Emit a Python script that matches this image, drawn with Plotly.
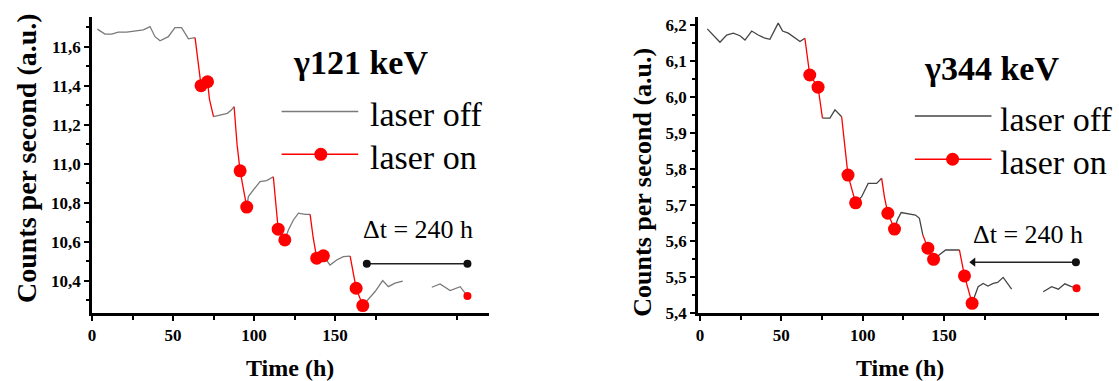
import plotly.graph_objects as go

# ---------------- data: left panel (gamma 121 keV) ----------------
L_off_x = [3.3, 8, 12.2, 16.2, 21.4, 26.5, 31.7, 35.8, 38.9, 42, 47.1, 51.2, 55.3, 59.5, 63.6, None,
           75.0, 77.5, 80.5, 83.5, 86.0, 87.7, None,
           95.5, 96.5, 99.6, 103.7, 107.8, 111.9, None,
           119.0, 121.2, 124.3, 127.4, 131.5, 134.6, None,
           142.8, 146.9, 151.0, 155.1, 159.3, None,
           167.1, 171.6, 174.7, 179.4, 182.9, 187.0, 191.8, None,
           209.7, 214.8, 221.0, 227.2, 231.7]
L_off_y = [11.690, 11.664, 11.664, 11.674, 11.674, 11.680, 11.686, 11.703, 11.651, 11.630, 11.651, 11.697, 11.697, 11.640, 11.646, None,
           11.241, 11.245, 11.250, 11.258, 11.275, 11.292, None,
           10.777, 10.831, 10.865, 10.908, 10.913, 10.933, None,
           10.609, 10.660, 10.711, 10.746, 10.740, 10.740, None,
           10.527, 10.480, 10.506, 10.523, 10.526, None,
           10.272, 10.318, 10.344, 10.400, 10.369, 10.387, 10.398, None,
           10.366, 10.383, 10.349, 10.369, 10.321]
L_on_x = [63.6, 65.0, 67.3, 71.3, 72.5, 75.0, None,
          87.7, 89.5, 91.4, 95.5, None,
          111.9, 113.4, 114.9, 119.0, None,
          134.6, 136.5, 138.7, 142.8, None,
          159.3, 161.0, 163.0, 167.1]
L_on_y = [11.646, 11.55, 11.40, 11.42, 11.33, 11.241, None,
          11.292, 11.10, 10.963, 10.777, None,
          10.933, 10.80, 10.664, 10.609, None,
          10.740, 10.62, 10.515, 10.527, None,
          10.526, 10.44, 10.361, 10.272]
L_dot_x = [67.3, 71.3, 91.4, 95.5, 114.9, 119.0, 138.7, 142.8, 163.0, 167.1]
L_dot_y = [11.40, 11.42, 10.963, 10.777, 10.664, 10.609, 10.515, 10.527, 10.361, 10.272]
L_last_x = [231.7]
L_last_y = [10.321]
L_dt_x = [169.6, 231.7]
L_dt_y = [10.486, 10.486]

# ---------------- data: right panel (gamma 344 keV) ----------------
R_off_x = [4.5, 8.2, 12.3, 16.4, 20.5, 24.6, 27.7, 31.8, 35.8, 40.0, 43.0, 48.1, 50.8, 54.3, 58.4, 61.5, 64.5, None,
           75.3, 79.9, 83.0, 87.1, None,
           95.7, 99.4, 103.4, 108.6, 111.7, None,
           119.6, 121.5, 123.7, 126.5, 129.8, 132.5, 134.9, 137.0, None,
           143.6, 148.3, 151.0, 155.0, 159.5, None,
           167.3, 171.0, 174.1, 177.0, 180.3, 183.0, 186.4, 191.6, None,
           211.0, 216.2, 220.3, 224.3, 228.0, 231.5]
R_off_y = [6.189, 6.172, 6.152, 6.172, 6.177, 6.170, 6.158, 6.183, 6.172, 6.163, 6.160, 6.205, 6.183, 6.177, 6.163, 6.154, 6.163, None,
           5.941, 5.941, 5.964, 5.945, None,
           5.706, 5.723, 5.760, 5.760, 5.774, None,
           5.633, 5.660, 5.679, 5.677, 5.675, 5.672, 5.663, 5.617, None,
           5.549, 5.566, 5.575, 5.575, 5.575, None,
           5.427, 5.473, 5.482, 5.475, 5.482, 5.485, 5.499, 5.466, None,
           5.459, 5.473, 5.466, 5.481, 5.474, 5.469]
R_on_x = [64.5, 66.0, 67.5, 72.6, 75.3, None,
          87.1, 89.0, 91.0, 95.7, None,
          111.7, 113.5, 115.5, 119.6, None,
          137.0, 140.1, 143.6, None,
          159.5, 161.0, 162.6, 167.3]
R_on_y = [6.163, 6.11, 6.061, 6.027, 5.941, None,
          5.945, 5.86, 5.783, 5.706, None,
          5.774, 5.72, 5.677, 5.633, None,
          5.617, 5.58, 5.549, None,
          5.575, 5.54, 5.503, 5.427]
R_dot_x = [67.5, 72.6, 91.0, 95.7, 115.5, 119.6, 140.1, 143.6, 162.6, 167.3]
R_dot_y = [6.061, 6.027, 5.783, 5.706, 5.677, 5.633, 5.580, 5.549, 5.503, 5.427]
R_last_x = [231.5]
R_last_y = [5.469]
R_dt_x = [168.0, 231.1]
R_dt_y = [5.541, 5.541]

# ticks / labels
x_major = [0, 50, 100, 150]
x_minor = [25, 75, 125, 175, 225]
L_yticks = [10.4, 10.6, 10.8, 11.0, 11.2, 11.4, 11.6]
R_yticks = [5.4, 5.5, 5.6, 5.7, 5.8, 5.9, 6.0, 6.1, 6.2]
titles = ["γ121 keV", "γ344 keV"]
legend_labels = ["laser off", "laser on"]
dt_label = "Δt = 240 h"
x_title = "Time (h)"
y_title = "Counts per second (a.u.)"

SERIF = "Liberation Serif"
RED = "#ff0000"

fig = go.Figure()

def add_panel(xa, ya, off_x, off_y, gray, on_x, on_y, dot_x, dot_y, last_x, last_y, dt_x, dt_y, dt_symbols):
    fig.add_trace(go.Scatter(x=off_x, y=off_y, mode="lines", line=dict(color=gray, width=1.3),
                             xaxis=xa, yaxis=ya, showlegend=False, connectgaps=False, hoverinfo="skip"))
    fig.add_trace(go.Scatter(x=on_x, y=on_y, mode="lines", line=dict(color=RED, width=1.3),
                             xaxis=xa, yaxis=ya, showlegend=False, connectgaps=False, hoverinfo="skip"))
    fig.add_trace(go.Scatter(x=dot_x, y=dot_y, mode="markers", marker=dict(color=RED, size=13),
                             xaxis=xa, yaxis=ya, showlegend=False))
    fig.add_trace(go.Scatter(x=last_x, y=last_y, mode="markers", marker=dict(color=RED, size=8),
                             xaxis=xa, yaxis=ya, showlegend=False))
    fig.add_trace(go.Scatter(x=dt_x, y=dt_y, mode="lines+markers",
                             line=dict(color="#222", width=1.5),
                             marker=dict(color="#111", size=8, symbol=dt_symbols),
                             xaxis=xa, yaxis=ya, showlegend=False))

add_panel("x", "y", L_off_x, L_off_y, "#7a7a7a", L_on_x, L_on_y, L_dot_x, L_dot_y,
          L_last_x, L_last_y, L_dt_x, L_dt_y, ["circle", "circle"])
add_panel("x2", "y2", R_off_x, R_off_y, "#454545", R_on_x, R_on_y, R_dot_x, R_dot_y,
          R_last_x, R_last_y, R_dt_x, R_dt_y, ["triangle-left", "circle"])

xaxis_common = dict(showline=True, linecolor="black", linewidth=2.5, showgrid=False, zeroline=False,
                    automargin=False,
                    ticks="outside", ticklen=5, tickwidth=2, tickcolor="black",
                    tickmode="array", tickvals=x_major,
                    tickfont=dict(family=SERIF, size=17, color="black", weight="bold"),
                    minor=dict(tickmode="array", tickvals=x_minor, ticks="outside", ticklen=4,
                               tickwidth=1.5, tickcolor="black"))
yaxis_common = dict(showline=True, linecolor="black", linewidth=2.5, showgrid=False, zeroline=False,
                    automargin=False,
                    ticks="outside", ticklen=5, tickwidth=2, tickcolor="black",
                    tickmode="array", tickformat=".1f",
                    tickfont=dict(family=SERIF, size=17, color="black", weight="bold"))

fig.update_layout(
    width=1119, height=381,
    margin=dict(l=0, r=0, t=0, b=0, autoexpand=False),
    paper_bgcolor="white", plot_bgcolor="white",
    separators=", ",
    showlegend=False,
    xaxis=dict(xaxis_common, domain=[92/1119, 489/1119], range=[0, 245], anchor="y"),
    yaxis=dict(yaxis_common, domain=[1-313/381, 1-17/381], range=[10.234, 11.752], anchor="x",
               tickvals=L_yticks,
               minor=dict(tickmode="linear", tick0=10.3, dtick=0.2, ticks="outside", ticklen=3,
                          tickwidth=1.5, tickcolor="black")),
    xaxis2=dict(xaxis_common, domain=[698/1119, 1099/1119], range=[-1.2, 245.3], anchor="y2"),
    yaxis2=dict(yaxis_common, domain=[1-313/381, 1-17/381], range=[5.4, 6.222], anchor="x2",
                tickvals=R_yticks,
                minor=dict(tickmode="linear", tick0=5.45, dtick=0.1, ticks="outside", ticklen=3,
                           tickwidth=1.5, tickcolor="black")),
)

ann = []
shapes = []

def legend_block(xa, ya, x0, x1, y_off, y_on, xdot, xtext, gray):
    shapes.append(dict(type="line", xref=xa, yref=ya, x0=x0, x1=x1, y0=y_off, y1=y_off,
                       line=dict(color=gray, width=1.5)))
    shapes.append(dict(type="line", xref=xa, yref=ya, x0=x0, x1=x1, y0=y_on, y1=y_on,
                       line=dict(color=RED, width=1.5)))
    shapes.append(dict(type="circle", xref=xa, yref=ya, xsizemode="pixel", ysizemode="pixel",
                       xanchor=xdot, yanchor=y_on, x0=-6.5, x1=6.5, y0=-6.5, y1=6.5,
                       fillcolor=RED, line=dict(color=RED, width=0)))
    for lab, yy in zip(legend_labels, [y_off, y_on]):
        ann.append(dict(xref=xa, yref=ya, x=xtext, y=yy, text=lab, showarrow=False,
                        xanchor="left", yanchor="middle", yshift=-3,
                        font=dict(family=SERIF, size=34, color="black")))

legend_block("x", "y", 117, 164.3, 11.267, 11.048, 141.2, 170.5, "#7a7a7a")
legend_block("x2", "y2", 132.1, 179.2, 5.947, 5.827, 155.3, 183.0, "#454545")

# panel titles
ann.append(dict(xref="x", yref="y", x=165.9, y=11.52, text=titles[0], showarrow=False,
                xanchor="center", yanchor="middle",
                font=dict(family=SERIF, size=34, color="black", weight="bold")))
ann.append(dict(xref="x2", yref="y2", x=179.3, y=6.078, text=titles[1], showarrow=False,
                xanchor="center", yanchor="middle",
                font=dict(family=SERIF, size=34, color="black", weight="bold")))
# delta t labels
ann.append(dict(xref="x", yref="y", x=201.2, y=10.66, text=dt_label, showarrow=False,
                xanchor="center", yanchor="middle", font=dict(family=SERIF, size=26, color="black")))
ann.append(dict(xref="x2", yref="y2", x=201.8, y=5.617, text=dt_label, showarrow=False,
                xanchor="center", yanchor="middle", font=dict(family=SERIF, size=26, color="black")))
# axis titles
for xx in [290/1119, 900/1119]:
    ann.append(dict(xref="paper", yref="paper", x=xx, y=1-368/381, text=x_title, showarrow=False,
                    xanchor="center", yanchor="middle",
                    font=dict(family=SERIF, size=24, color="black", weight="bold")))
ann.append(dict(xref="paper", yref="paper", x=26/1119, y=1-158/381, text=y_title, showarrow=False,
                textangle=-90, xanchor="center", yanchor="middle",
                font=dict(family=SERIF, size=28, color="black", weight="bold")))
ann.append(dict(xref="paper", yref="paper", x=641.7/1119, y=1-182/381, text=y_title, showarrow=False,
                textangle=-90, xanchor="center", yanchor="middle",
                font=dict(family=SERIF, size=26, color="black", weight="bold")))

fig.update_layout(annotations=ann, shapes=shapes)
fig.write_html("out.html", config={"displayModeBar": False},
               post_script="document.body.style.margin='0';")
